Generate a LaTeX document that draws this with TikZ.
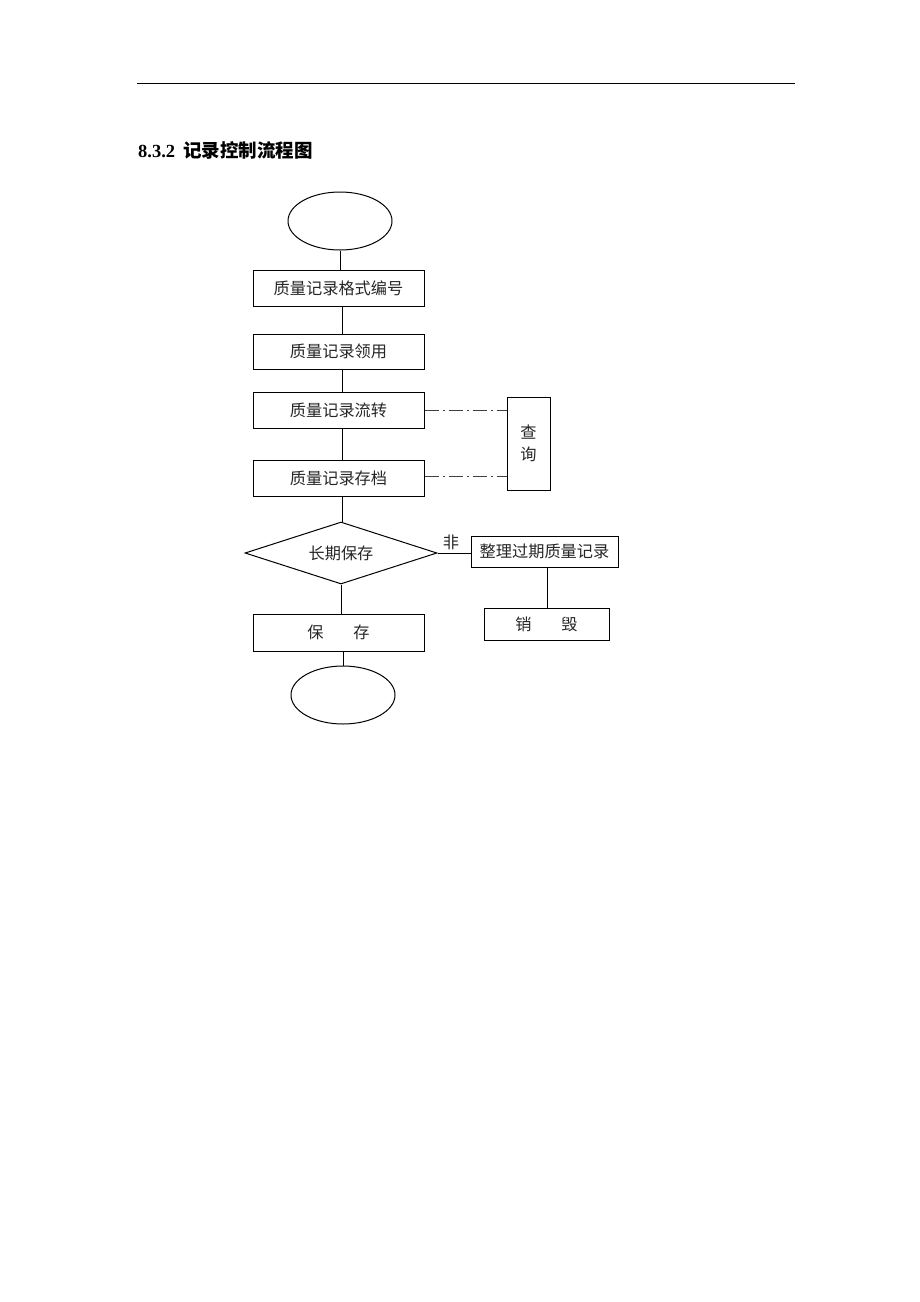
\documentclass[tikz,border=0pt]{standalone}
\usepackage{fontspec}
\setmainfont{Liberation Serif}
\newfontfamily\cjk{Noto Sans CJK SC}
\newfontfamily\cjkb{Noto Sans CJK SC Medium}
\usetikzlibrary{shapes.geometric}
\begin{document}
\begin{tikzpicture}[x=1pt,y=-1pt,
  box/.style={draw,line width=1pt,inner sep=0pt},
  lbl/.style={font=\cjk\fontsize{16.2}{16.2}\selectfont,text=black!85},
  conn/.style={line width=1pt},
  dd/.style={line width=1pt,draw=black!75,dash pattern=on 14pt off 4pt on 2pt off 4pt}]
\useasboundingbox (0,0) rectangle (920,1302);
\draw[line width=1pt] (137,83) -- (795,83);
\node[anchor=base west,inner sep=0pt] (title) at (138,157) {\fontsize{18.5}{18.5}\selectfont\bfseries 8.3.2\hspace{8pt}{\cjkb 记录控制流程图}};
% nodes
\node[draw,ellipse,line width=1pt,minimum width=104pt,minimum height=58pt,inner sep=0pt] (start) at (340,221) {};
\node[box,minimum width=171pt,minimum height=36pt,lbl] (b1) at (338.5,288) {质量记录格式编号};
\node[box,minimum width=171pt,minimum height=35pt,lbl] (b2) at (338.5,351.5) {质量记录领用};
\node[box,minimum width=171pt,minimum height=36pt,lbl] (b3) at (338.5,410) {质量记录流转};
\node[box,minimum width=171pt,minimum height=36pt,lbl] (b4) at (338.5,478) {质量记录存档};
\node[box,minimum width=43pt,minimum height=93pt,lbl,align=center] (q) at (528.5,443.5) {查\\[6pt]询};
\node[draw,diamond,line width=1pt,aspect=3.1,minimum width=192pt,minimum height=62pt,inner sep=0pt,lbl] (d) at (341,553) {长期保存};
\node[box,minimum width=147pt,minimum height=31pt,lbl] (z) at (544.5,551.5) {整理过期质量记录};
\node[box,minimum width=125pt,minimum height=32pt,lbl] (x) at (546.5,624) {销\hspace{30pt}毁};
\node[box,minimum width=171pt,minimum height=37pt,lbl] (s) at (338.5,632.5) {保\hspace{30pt}存};
\node[draw,ellipse,line width=1pt,minimum width=104pt,minimum height=58pt,inner sep=0pt] (end) at (343,695) {};
\node[lbl,inner sep=0pt] (fei) at (451,542) {非};
% connectors
\draw[conn] (start.south) -- (start.south |- b1.north);
\draw[conn] (342,0 |- b1.south) -- (342,0 |- b2.north);
\draw[conn] (342,0 |- b2.south) -- (342,0 |- b3.north);
\draw[conn] (342,0 |- b3.south) -- (342,0 |- b4.north);
\draw[conn] (342,0 |- b4.south) -- (342,0 |- d.north);
\draw[conn] (d.east) -- (z.west |- d.east);
\draw[conn] (547,0 |- z.south) -- (547,0 |- x.north);
\draw[conn] (d.south) -- (d.south |- s.north);
\draw[conn] (s.south -| end.north) -- (end.north);
\draw[dd] (b3.east) -- (q.west |- b3.east);
\draw[dd] (b4.east |- 0,476) -- (q.west |- 0,476);
\end{tikzpicture}
\end{document}
